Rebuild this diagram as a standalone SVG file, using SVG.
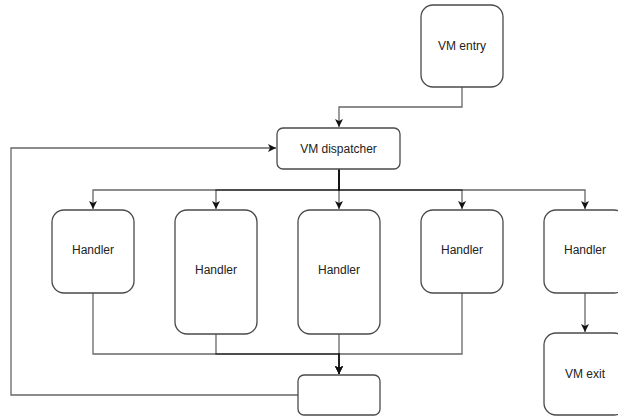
<svg xmlns="http://www.w3.org/2000/svg" width="618" height="416" viewBox="0 0 618 416">
<style>
.box{fill:#fff;stroke:#4a4a4a;stroke-width:1.3}
.lbl{font-family:"Liberation Sans",Arial,sans-serif;font-size:12px;fill:#222;text-anchor:middle;dominant-baseline:central}
.edge{fill:none;stroke:#000;stroke-opacity:0.6;stroke-width:1.3}
</style>
<defs>
<marker id="arr" markerWidth="10" markerHeight="10" refX="9" refY="5" orient="auto" markerUnits="userSpaceOnUse">
<path d="M1,1 L9,5 L1,9 L3,5 Z" fill="#111"/>
</marker>
</defs>
<g id="connectors">
<path class="edge" d="M462 87 V107 H339 V127" marker-end="url(#arr)"/>
<path class="edge" d="M339 169 V190 H93 V209" marker-end="url(#arr)"/>
<path class="edge" d="M339 169 V190 H216 V209" marker-end="url(#arr)"/>
<path class="edge" d="M339 169 V209" marker-end="url(#arr)"/>
<path class="edge" d="M339 169 V190 H462 V209" marker-end="url(#arr)"/>
<path class="edge" d="M339 169 V190 H585 V209" marker-end="url(#arr)"/>
<path class="edge" d="M93 293 V354 H339 V374" marker-end="url(#arr)"/>
<path class="edge" d="M216 334 V354 H339 V374" marker-end="url(#arr)"/>
<path class="edge" d="M339 334 V374" marker-end="url(#arr)"/>
<path class="edge" d="M462 293 V354 H339 V374" marker-end="url(#arr)"/>
<path class="edge" d="M585 293 V332" marker-end="url(#arr)"/>
<path class="edge" d="M298 395 H11 V148 H276" marker-end="url(#arr)"/>
</g>
<g id="vm-entry"><rect class="box" x="421" y="5" width="82" height="82" rx="12"/><text class="lbl" x="462" y="46">VM entry</text></g>
<g id="vm-dispatcher"><rect class="box" x="277" y="128" width="123" height="41" rx="6"/><text class="lbl" x="338.5" y="148.5">VM dispatcher</text></g>
<g id="handler1"><rect class="box" x="52" y="210" width="82" height="83" rx="12"/><text class="lbl" x="93" y="250">Handler</text></g>
<g id="handler2"><rect class="box" x="175" y="210" width="82" height="124" rx="12"/><text class="lbl" x="216" y="270">Handler</text></g>
<g id="handler3"><rect class="box" x="298" y="210" width="82" height="124" rx="12"/><text class="lbl" x="339" y="270">Handler</text></g>
<g id="handler4"><rect class="box" x="421" y="210" width="82" height="83" rx="12"/><text class="lbl" x="462" y="250">Handler</text></g>
<g id="handler5"><rect class="box" x="544" y="210" width="82" height="83" rx="12"/><text class="lbl" x="585" y="250">Handler</text></g>
<g id="vm-exit"><rect class="box" x="544" y="333" width="82" height="82" rx="12"/><text class="lbl" x="585" y="374">VM exit</text></g>
<g id="return-box"><rect class="box" x="298" y="375" width="82" height="40" rx="6"/></g>
</svg>
